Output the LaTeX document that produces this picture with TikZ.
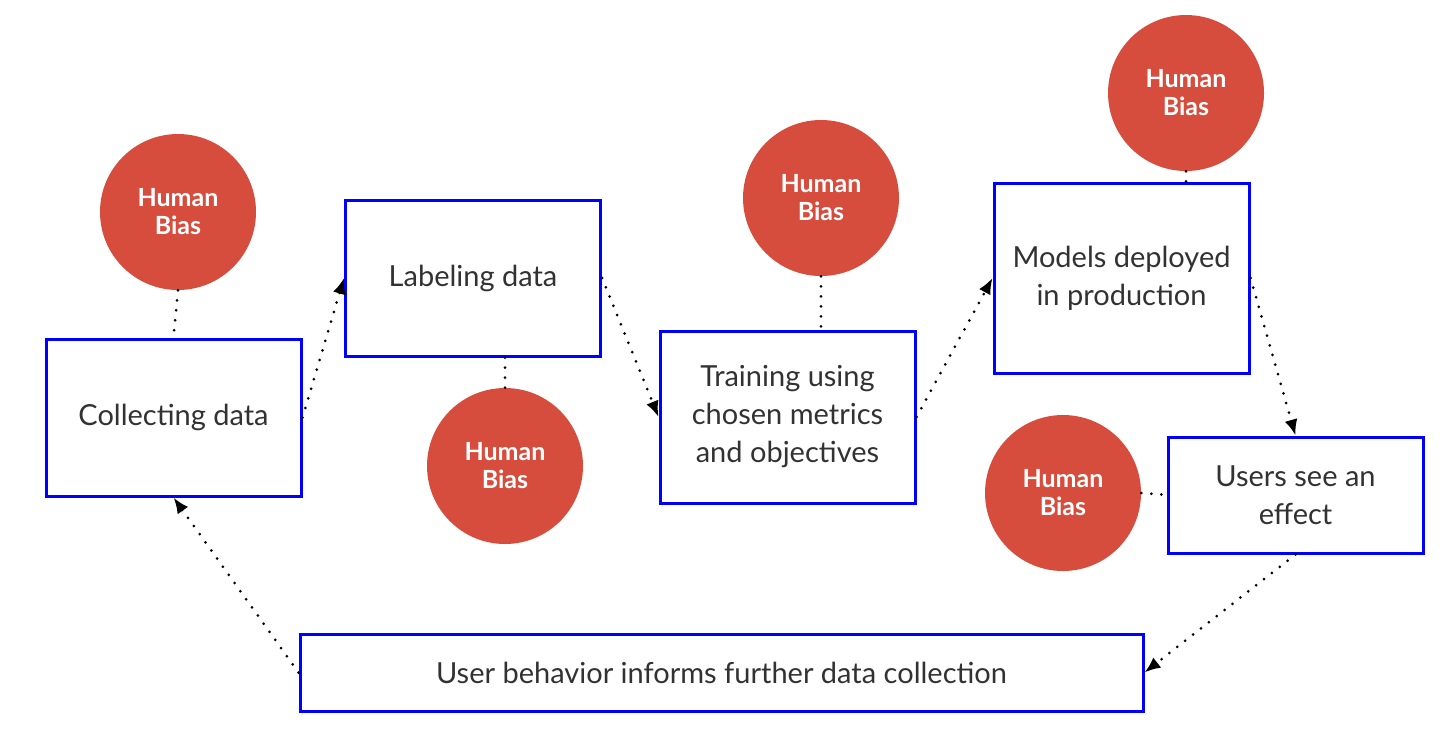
\documentclass[tikz,border=0pt]{standalone}
\usepackage{fontspec}
\setmainfont{Lato}
\usetikzlibrary{arrows.meta}
\definecolor{biasred}{RGB}{215,77,61}
\definecolor{boxblue}{RGB}{0,0,255}
\definecolor{txtgray}{RGB}{50,50,50}
\begin{document}
\begin{tikzpicture}[x=0.5pt,y=-0.5pt]
    \tikzstyle{every node}=[align=center,text=txtgray,font=\fontsize{14.5}{19}\selectfont]
    \tikzstyle{stage}=[draw=boxblue,line width=1.5pt,minimum width=127.5pt]
    \tikzstyle{bias}=[circle,fill=biasred,minimum size=78pt,inner sep=0pt,text=white,font=\fontsize{12.5}{14}\selectfont\bfseries]
    \tikzstyle{flow}=[line width=1.5pt,line cap=round,dash pattern=on 0pt off 5pt,-{Latex[length=8pt,width=6.5pt]}]
    \tikzstyle{tie}=[line width=1.5pt,line cap=round,dash pattern=on 0pt off 5pt]
    \useasboundingbox (0,0) rectangle (1443,734);

    \node (cd) [stage,minimum height=78.5pt] at (173.5,417.5) {Collecting data};
    \node (ld) [stage,minimum height=78pt] at (473,278) {Labeling data};
    \node (tr) [stage,minimum height=86pt] at (787.5,417) {Training using\\chosen metrics\\and objectives};
    \node (md) [stage,minimum height=95pt] at (1121.5,278) {Models deployed\\in production};
    \node (us) [stage,minimum height=58pt] at (1295.5,495) {Users see an\\effect};
    \node (ub) [stage,minimum width=421.5pt,minimum height=38.5pt] at (721.5,672.5) {User behavior informs further data collection};

    \node (hb1) [bias] at (178,212) {Human\\Bias};
    \node (hb2) [bias] at (505,466) {Human\\Bias};
    \node (hb3) [bias] at (821,198) {Human\\Bias};
    \node (hb4) [bias] at (1186,93) {Human\\Bias};
    \node (hb5) [bias] at (1063,493) {Human\\Bias};

    \draw[flow] (cd.east) to (ld.west);
    \draw[flow] (ld.east) to (tr.west);
    \draw[flow] (tr.east) to (md.west);
    \draw[flow] (md.east) to (us.north);
    \draw[flow] (us.south) to (ub.east);
    \draw[flow] (ub.west) to (cd.south);

    \draw[tie] (hb1.south) to (cd.north);
    \draw[tie] (hb2.north) to (hb2.north |- ld.south);
    \draw[tie] (hb3.south) to (hb3.south |- tr.north);
    \draw[tie] (hb4.south) to (hb4.south |- md.north);
    \draw[tie] (hb5.east) to (us.west);
\end{tikzpicture}
\end{document}
